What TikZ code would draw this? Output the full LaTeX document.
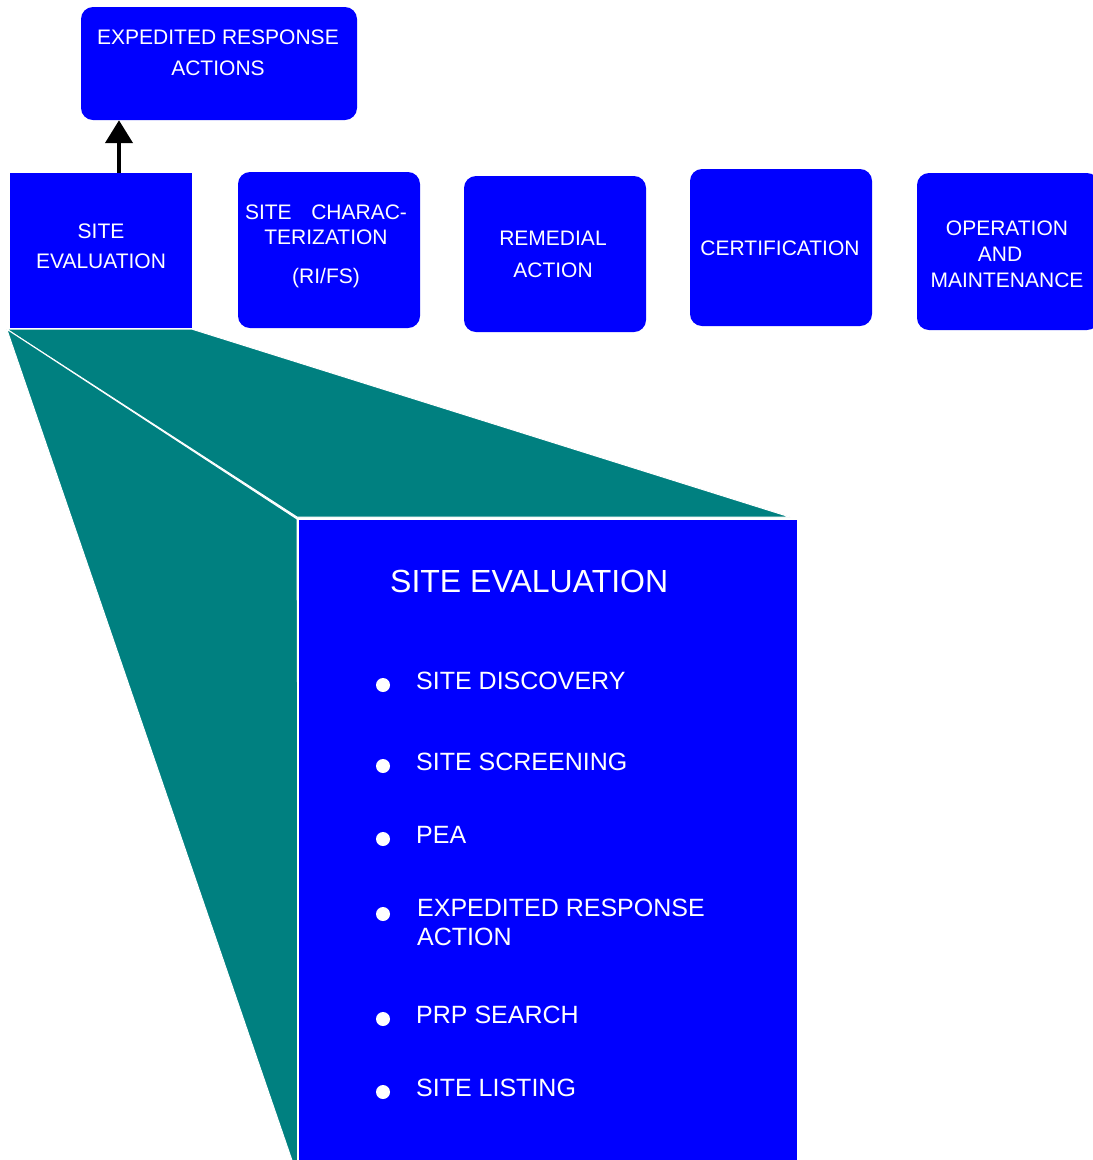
\documentclass[tikz,border=0pt]{standalone}
\usepackage{fontspec}
\setmainfont{Liberation Sans}
\usetikzlibrary{arrows.meta}
\definecolor{pblue}{RGB}{0,0,255}
\definecolor{pteal}{RGB}{0,128,128}
\begin{document}
\begin{tikzpicture}[x=1pt,y=-1pt,
  rbox/.style={fill=pblue, rounded corners=12pt, inner sep=0pt, minimum width=182pt, minimum height=156pt},
  sbox/.style={fill=pblue, inner sep=0pt},
  lbl/.style={text=white, font=\fontsize{21}{26}\selectfont, align=center, inner sep=0pt},
  item/.style={text=white, font=\fontsize{25}{29}\selectfont, align=left, inner sep=0pt, anchor=west},
  dot/.style={circle, fill=white, inner sep=0pt, minimum size=14pt},
  face/.style={fill=pteal, draw=white, line width=1pt, line join=round},
  arr/.style={line width=4.5pt, -{Triangle[width=27pt,length=23pt]}}]
\useasboundingbox (0,0) rectangle (1093,1160);
\clip (0,0) rectangle (1093,1160);

% top row boxes
\node[rbox, minimum width=276pt, minimum height=113pt] (era) at (219,63.5) {};
\node[sbox, minimum width=182pt, minimum height=155pt] (sev) at (101,250.5) {};
\node[rbox] (sch) at (329,250) {};
\node[rbox] (rem) at (555,254) {};
\node[rbox, minimum height=157pt] (cert) at (781,247.5) {};
\node[rbox, minimum height=157pt] (om) at (1008,251.5) {};

% zoom frustum
\path (sev.south west) ++(-3,1) coordinate (fa);
\path (sev.south east) ++(0,1) coordinate (fb);
\coordinate (fc) at (790,517);
\coordinate (fd) at (297,517);
\coordinate (fe) at (297,519);
\coordinate (ff) at (297,1175);
\coordinate (fg) at (299,1175);
\fill[face] (fa) -- (fb) -- (fc) -- (fd) -- cycle;
\fill[face] (fa) -- (fe) -- (fg) -- (ff) -- cycle;

% big box
\node[sbox, draw=white, line width=1.5pt, minimum width=500pt, minimum height=660pt] (big) at (548,849) {};

% arrow
\draw[arr] ([xshift=18pt]sev.north) -- ([xshift=18pt]sev.north |- era.south);

% box labels
\node[lbl] (tera) at (218,52.5) {EXPEDITED RESPONSE\\[5pt]ACTIONS};
\node[lbl] (tsev) at (101,246) {SITE\\[4pt]EVALUATION};
\node[lbl] (tsch) at (326,246) {SITE\hspace{19.6pt}CHARAC-\\[-1pt]TERIZATION\\[13pt](RI/FS)};
\node[lbl] (trem) at (553,254) {REMEDIAL\\[6pt]ACTION};
\node[lbl] (tcert) at (780,248) {CERTIFICATION};
\node[lbl] (tom) at (1007,254) {OPERATION\\[0pt]\hspace{-14pt}AND\\[0pt]MAINTENANCE};

% big box contents
\node[text=white, font=\fontsize{32}{38}\selectfont, inner sep=0pt, anchor=west] (head) at (390,581) {SITE EVALUATION};

\node[dot] (b1) at (383,685) {};
\node[item] (i1) at (416,681) {SITE DISCOVERY};
\node[dot] (b2) at (383,766) {};
\node[item] (i2) at (416,762) {SITE SCREENING};
\node[dot] (b3) at (383,839) {};
\node[item] (i3) at (416,835) {PEA};
\node[dot] (b4) at (383,914) {};
\node[item] (i4) at (417,922.5) {EXPEDITED RESPONSE\\ACTION};
\node[dot] (b5) at (383,1019) {};
\node[item] (i5) at (416,1015) {PRP SEARCH};
\node[dot] (b6) at (383,1092) {};
\node[item] (i6) at (416,1088) {SITE LISTING};
\end{tikzpicture}
\end{document}
